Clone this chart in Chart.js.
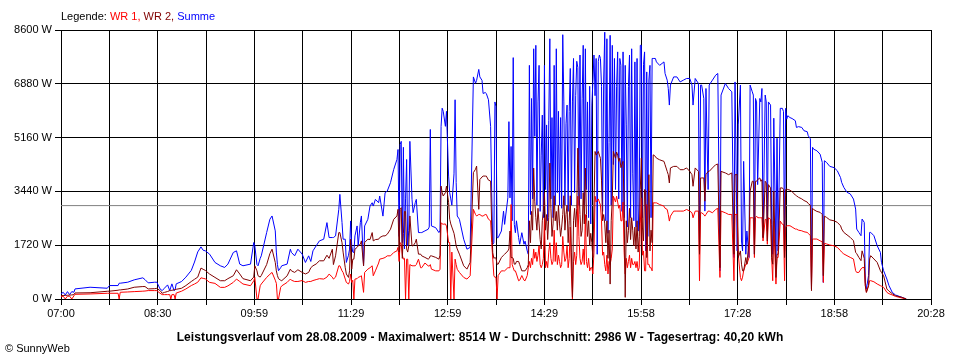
<!DOCTYPE html>
<html>
<head>
<meta charset="utf-8">
<script src="https://cdn.jsdelivr.net/npm/chart.js@4/dist/chart.umd.min.js"></script>
<style>
  body { margin: 0; background: #fff; }
  #wrap { position: relative; width: 960px; height: 360px; font-family: "Liberation Sans", Arial, sans-serif; }
  #legend { position: absolute; left: 61px; top: 10px; font-size: 11px; line-height: 13px; white-space: nowrap; }
  #title { position: absolute; left: 0; width: 960px; top: 330px; text-align: center; font-size: 12px; font-weight: bold; letter-spacing: 0.1px; line-height: 14px; white-space: nowrap; }
  #copy { position: absolute; left: 5px; top: 342px; font-size: 11px; line-height: 13px; }
</style>
</head>
<body>
<div id="wrap">
  <canvas id="chart" width="960" height="360"></canvas>
  <div id="legend">Legende: <span style="color:#ff0000">WR 1,</span> <span style="color:#800000">WR 2,</span> <span style="color:#0000ff">Summe</span></div>
  <div id="title">Leistungsverlauf vom 28.08.2009 - Maximalwert: 8514 W - Durchschnitt: 2986 W - Tagesertrag: 40,20 kWh</div>
  <div id="copy">© SunnyWeb</div>
</div>
<script>
// x axis: minutes after 07:00 (axis runs to 20:28 = 808 min)
const xTickLabels = ['07:00', '08:30', '09:59', '11:29', '12:59', '14:29', '15:58', '17:28', '18:58', '20:28'];
const yMax = 8600;
const yStep = 1720;
const average = 2986; // Durchschnitt

const times = [
  0, 2, 4, 6, 8, 10, 12, 13, 27, 43,
  45, 53, 54, 55, 62, 68, 76, 78, 81, 87,
  89, 92, 94, 96, 99, 101, 102, 103, 105, 106,
  107, 112, 116, 121, 124, 127, 130, 132, 134,
  138, 143, 148, 152, 155, 160, 163, 166, 169, 176,
  179, 180, 182, 183, 185, 186, 191, 194, 196, 199,
  200, 201, 202, 204, 205, 210, 213, 214, 217, 220,
  224, 227, 230, 232, 234, 237, 240, 244, 247, 249,
  252, 253, 255, 258, 259, 261, 262, 264, 265, 267, 268,
  269, 270, 271, 272, 273, 275, 276, 278, 279, 281,
  282, 285, 287, 289, 290, 292, 295, 296, 299, 301,
  303, 306, 309, 312, 313, 314, 315, 316, 317, 318,
  319, 320, 321, 322, 323, 324, 326, 327, 329, 330,
  332, 334, 335, 338, 341, 342, 343, 344, 348, 351, 352,
  353, 354, 355, 357, 358, 360, 361, 362, 363, 365, 366,
  367, 368, 370, 374, 377, 380, 383, 385, 386, 388,
  389, 391, 392, 394, 395, 397, 399, 400, 401, 402,
  403, 404, 405, 406, 409, 411, 412, 415, 416, 417,
  418, 419, 420, 421, 422, 423, 425, 426, 428, 430,
  431, 433, 434,
  435, 436, 437, 438, 439, 440, 441, 442, 443, 444,
  445, 446, 447, 448, 449, 450, 451, 452, 453, 454,
  455, 456, 457, 458, 459, 460, 461, 462, 463, 464,
  465, 466, 467, 468, 469, 470, 471, 472, 473, 474,
  475, 476, 477, 478, 479, 480, 481, 482, 483, 484,
  485, 486, 487, 488, 489, 490, 491, 492, 493, 494,
  495, 496, 497, 498, 499, 500, 501, 502, 503, 504,
  505, 506, 507, 508, 509, 510, 511, 512, 513, 514,
  515, 516, 517, 518, 519, 520, 521, 522, 523, 524,
  525, 526, 527, 528, 529, 530, 531, 532, 533, 534,
  535, 536, 537, 538, 539, 540, 541, 542, 543, 544,
  545, 546, 547, 548, 549, 550,
  552, 553, 556, 560, 561,
  563, 564, 565, 566, 569, 572, 575, 578, 581, 584,
  586, 587, 589, 592, 593, 594, 595, 597, 598, 599,
  601, 602, 605, 608, 610, 612, 613, 617, 620, 623,
  625, 626, 628, 629, 631, 632, 633, 634, 636, 637,
  639, 640, 642, 643, 644, 645, 646, 647, 649, 650,
  651, 652, 654, 655, 656, 657, 659, 660, 661, 662,
  664, 665, 666, 668, 670, 671, 672, 673, 674, 675,
  677, 679, 682, 683, 685, 688, 690, 693, 694, 696,
  697, 698, 699, 702, 705, 707, 708, 709, 711, 714,
  718, 721, 724, 725, 727, 730, 733, 736, 738, 739,
  741, 743, 744, 746, 747, 748, 750, 751, 752, 755,
  758, 761, 762, 764, 767, 769, 772, 775, 781, 785
];

// Summe (W)
const summe = [
  161, 215, 129, 236, 140, 236, 215, 322, 376, 344,
  430, 430, 505, 505, 537, 612, 677, 620, 516, 537,
  537, 322, 268, 344, 451, 268, 380, 484, 268, 300,
  484, 559, 699, 914, 1182, 1505, 1666, 1559, 1540,
  1434, 1168, 1062, 1009, 1115, 1487, 1540, 1115, 1062, 1115,
  1805, 1700, 1100, 1062, 1300, 1380, 2124, 2549, 2655, 2177,
  1500, 1100, 903, 1000, 1062, 1115, 1593, 1490, 1380, 1593,
  1434, 1168, 1380, 1200, 1540, 1700, 1858, 1912, 2442, 1965,
  1965, 1965, 2018, 2867, 3345, 2442, 1912, 1912, 1168, 1400, 1593,
  2496, 1700, 1500, 1486, 2018, 2336, 1700, 2442, 2655, 1062,
  2336, 2549, 2972, 3078, 2972, 3186, 3078, 3292, 2650, 3398,
  3451, 3717, 4142, 4460, 4780, 2000, 4940, 5040, 1800, 4850,
  1600, 3200, 4460, 1700, 2200, 5040, 3186, 2760, 3080, 3186,
  2124, 2124, 2124, 2177, 2230, 2300, 5420, 2336, 2280, 2124, 2200,
  5520, 6100, 6000, 5520, 6000, 3930, 3400, 3200, 3000, 4000, 6370,
  3720, 2655, 2549, 1912, 1593, 1650, 7100, 6900, 6990, 7340,
  7100, 6990, 6570, 6600, 6570, 6370, 5520, 3400, 1750, 1800,
  6300, 6150, 1960, 1960, 2173, 2810, 2385, 3233, 5670, 3233,
  4876, 2500, 7717, 2385, 2120, 2500, 1960, 1750, 2120, 1750,
  1850, 1537, 1430,
  7470, 2700, 6410, 3200, 8000, 5200, 8110, 3000, 6300, 7470,
  2800, 4600, 5880, 2600, 7470, 3500, 5565, 2500, 5700, 8320,
  3200, 5800, 2600, 7470, 3000, 8000, 3400, 6000, 3000, 5800,
  2900, 8450, 6300, 3000, 5600, 6200, 2800, 6000, 7370, 3000,
  6300, 7690, 3400, 6500, 7600, 7400, 3000, 7800, 3200, 6400,
  8110, 3000, 8000, 3500, 6300, 2600, 6800, 2400, 6200, 6950,
  7800, 6500, 7690, 1430, 7600, 7800, 7690, 6800, 2800, 7000,
  8530, 2500, 8320, 2100, 5000, 8430, 3000, 8110, 4300, 7690,
  3500, 6800, 7900, 3200, 7690, 7470, 2800, 7900, 2600, 7470,
  5565, 2300, 6800, 7800, 2600, 8000, 4000, 2500, 7580, 2300,
  7690, 2170, 3000, 8110, 8110, 2600, 7500, 7900, 1537, 7260,
  2000, 7000, 7470, 2600, 7690, 7690,
  7690, 7580, 7470, 7580, 7210,
  6996, 6730, 6200, 6840, 7100, 7100, 6940, 6996, 7050, 7050,
  6840, 6200, 7050, 6890, 1537, 6840, 6840, 6410, 2810, 6730,
  3500, 6840, 6996, 7155, 7210, 900, 6520, 6890, 6730, 6625,
  1325, 6940, 1537, 5565, 6840, 1855, 1537, 4400, 1431, 2173,
  1325, 6840, 6625, 6520, 1431, 6410, 6300, 3657, 6410, 6300,
  6730, 1961, 6520, 6300, 2173, 6300, 6200, 2385, 1431, 5780,
  1325, 5140, 1537, 6095, 6095, 5990, 1537, 6095, 5750, 5860,
  5800, 5770, 5700, 5485, 5510, 5485, 5380, 5350, 5220, 5120,
  320, 4850, 4790, 4740, 4630, 4366, 530, 4420, 4366, 4240,
  4200, 4100, 3880, 3730, 3570, 3410, 3360, 3195, 2875, 2236,
  2130, 2023, 2556, 2450, 532, 320, 750, 2130, 2130, 2023,
  1704, 1490, 1171, 905, 639, 426, 213, 128, 53, 0
];

// WR 2 (W)
const wr2 = [
  107, 110, 115, 120, 125, 130, 140, 193, 200, 247,
  250, 280, 290, 290, 320, 376, 398, 398, 322, 330,
  340, 269, 183, 210, 240, 269, 269, 280, 290, 300,
  310, 344, 430, 559, 630, 699, 989, 950, 914,
  797, 690, 584, 584, 650, 743, 935, 800, 650, 584,
  700, 1062, 900, 743, 700, 750, 1100, 1450, 1593, 1168,
  900, 750, 650, 600, 584, 740, 956, 900, 850, 935,
  850, 800, 850, 1000, 1062, 1120, 1221, 1221, 1400, 1300,
  1593, 1100, 1380, 2124, 2124, 1800, 1500, 1000, 800, 690, 900,
  1912, 955, 1274, 1274, 1593, 1650, 1700, 1750, 1858, 1062,
  1805, 1912, 1900, 2124, 1858, 1900, 1912, 1965, 2018, 2018,
  2070, 2230, 2549, 2655, 2867, 1500, 2867, 2920, 1300, 2100,
  2800, 2800, 1600, 1500, 1700, 2655, 1700, 1700, 1800, 1912,
  1434, 1434, 1380, 1330, 1274, 1300, 1380, 1380, 1330, 1274, 1400,
  3610, 3400, 3292, 3400, 3610, 3080, 2549, 2400, 2300, 2100, 1912,
  1700, 1600, 1434, 1062, 955, 1170, 4040, 4150, 4250, 2867,
  3820, 3900, 3930, 3930, 3930, 3800, 3770, 2336, 1480, 1300,
  1325, 1300, 1113, 1113, 1325, 1400, 1430, 1537, 1600, 2173,
  1325, 1325, 1300, 1113, 1113, 1200, 1200, 1100, 900, 900,
  900, 1000, 1100,
  2500, 1800, 2800, 2200, 4187, 3127, 2600, 2200, 2900, 2400,
  1900, 1600, 2500, 2800, 3400, 2200, 2700, 1900, 2600, 4346,
  2900, 2000, 2400, 3300, 2500, 2800, 2200, 3000, 2400, 2000,
  2300, 2700, 3300, 2200, 2700, 3000, 1800, 2500, 3300, 1500,
  53, 2500, 2900, 2300, 2900, 4823, 3600, 2700, 2000, 2200,
  3400, 2400, 4187, 2700, 2000, 2500, 1700, 2100, 1800, 1325,
  3000, 4717, 4600, 4650, 4717, 4600, 4500, 3800, 2500, 2700,
  2400, 1800, 2500, 1300, 2200, 477, 2500, 3200, 4717, 4600,
  4500, 4700, 4600, 4400, 4500, 4200, 4300, 4400, 3000, 53,
  2500, 1800, 2200, 2900, 1900, 2600, 2200, 1700, 2300, 1600,
  2500, 1500, 2000, 3500, 4505, 2300, 1855, 3500, 3445, 1325,
  2500, 3975, 1537, 2200, 1800, 4610,
  4560, 4505, 4450, 4400, 4293,
  4080, 3975, 3710, 4190, 4240, 4240, 4134, 4134, 4190, 4080,
  3975, 3604, 4190, 4080, 1431, 3870, 3870, 3870, 3127, 3975,
  4080, 4080, 4190, 4293, 4314, 1000, 4080, 4030, 3975, 4030,
  1431, 3975, 3975, 1325, 1537, 1113, 900, 900, 1325, 1113,
  1855, 3445, 3763, 3763, 1431, 3763, 3763, 3816, 3870, 3763,
  3816, 1961, 3763, 3710, 1855, 3657, 3551, 1325, 1113, 3445,
  689, 1431, 1431, 3551, 3551, 3500, 1325, 3500, 3515, 3500,
  3480, 3430, 3323, 3300, 3250, 3200, 3150, 3100, 3050, 3000,
  266, 2900, 2860, 2800, 2770, 2700, 745, 2650, 2609, 2530,
  2500, 2450, 2340, 2240, 2130, 2050, 1970, 1864, 1491, 1450,
  1330, 1225, 1540, 1300, 426, 213, 426, 1280, 1385, 1280,
  1170, 905, 850, 745, 320, 250, 170, 106, 53, 0
];

// WR 1 (W)
const wr1 = [
  80, 90, 0, 90, 90, 0, 100, 150, 161, 183,
  183, 183, 0, 215, 225, 236, 250, 255, 269, 269,
  269, 183, 140, 140, 140, 140, 0, 140, 140, 0,
  190, 250, 322, 430, 480, 537, 677, 660, 645,
  531, 500, 372, 372, 420, 531, 637, 560, 480, 425,
  580, 690, 0, 0, 425, 480, 690, 790, 850, 600,
  500, 0, 0, 372, 420, 531, 637, 600, 560, 560,
  590, 531, 560, 560, 590, 620, 650, 637, 700, 797,
  700, 637, 700, 1062, 1062, 900, 850, 637, 531, 480, 560,
  797, 530, 600, 0, 637, 650, 690, 720, 743, 212,
  850, 955, 1000, 1062, 743, 900, 1150, 1274, 1300, 1327,
  1380, 1380, 1486, 1540, 1650, 1200, 1805, 1750, 1400, 1274,
  1300, 0, 1274, 1274, 0, 1100, 1062, 1062, 1062, 1100,
  1274, 1000, 1000, 1150, 1060, 1050, 1100, 955, 900, 900, 950,
  2440, 2400, 2390, 2400, 2330, 1805, 1805, 0, 1500, 0, 1274,
  1100, 950, 850, 690, 637, 743, 2867, 2700, 2655, 2700,
  2700, 2650, 2655, 2700, 2700, 2550, 2500, 1800, 1274, 743,
  690, 700, 0, 750, 900, 900, 900, 1000, 1000, 1000,
  3020, 1100, 1000, 900, 900, 800, 583, 600, 750, 600,
  583, 750, 1000,
  1200, 1000, 1300, 1100, 1600, 1300, 1500, 1200, 1400, 1700,
  1100, 1000, 1100, 1300, 2600, 1000, 1200, 1000, 1500, 1800,
  1300, 1100, 1200, 2200, 1200, 1800, 1100, 1400, 1200, 1000,
  1100, 2000, 1500, 1200, 1300, 1700, 1000, 1300, 2300, 800,
  0, 1200, 1500, 1100, 1400, 3286, 2000, 1300, 1100, 1200,
  1600, 1100, 2700, 1200, 1000, 1300, 900, 1000, 1000, 800,
  1500, 3286, 3100, 3150, 3200, 3100, 3000, 2500, 1400, 1500,
  1100, 900, 1400, 800, 1200, 1100, 1300, 1600, 3286, 3200,
  3100, 3286, 3100, 2900, 3000, 2500, 2500, 3100, 1500, 800,
  1300, 1000, 1200, 1400, 1000, 1300, 1100, 1100, 1200, 1000,
  1200, 900, 1000, 2400, 3233, 1400, 1537, 900, 900, 3020,
  1100, 1113, 1000, 1000, 900, 3074,
  3074, 3074, 3020, 2968, 2900,
  2862, 2703, 2491, 2650, 2810, 2810, 2810, 2810, 2862, 2810,
  2756, 2597, 2810, 2810, 583, 2756, 2756, 2703, 2650, 2703,
  2810, 2810, 2756, 2862, 2900, 689, 2810, 2756, 2703, 2703,
  583, 2703, 2703, 1431, 689, 583, 700, 900, 1113, 1113,
  1325, 2597, 2597, 2597, 1325, 2600, 2650, 2600, 2597, 2597,
  2597, 1855, 2544, 2544, 1750, 2597, 2544, 1325, 583, 2491,
  477, 1325, 1325, 2491, 2385, 2385, 583, 2300, 2343, 2343,
  2343, 2300, 2236, 2236, 2200, 2180, 2150, 2130, 2100, 2023,
  320, 1917, 1917, 1917, 1860, 1830, 530, 1780, 1760, 1725,
  1700, 1650, 1544, 1500, 1440, 1385, 1330, 1278, 905, 850,
  850, 960, 1000, 1012, 426, 213, 426, 586, 586, 550,
  480, 426, 410, 373, 213, 170, 128, 85, 32, 0
];

const xMax = 808;
const xSlots = 18;

function points(values) {
  return times.map((t, i) => ({x: t, y: values[i]}));
}

Chart.defaults.font.family = '"Liberation Sans", Arial, sans-serif';
Chart.defaults.font.size = 11;
Chart.defaults.color = '#000';

const ctx = document.getElementById('chart').getContext('2d');

new Chart(ctx, {
  type: 'line',
  data: {
    datasets: [
      { label: 'WR 2', data: points(wr2), borderColor: '#800000', order: 0 },
      { label: 'WR 1', data: points(wr1), borderColor: '#ff0000', order: 1 },
      { label: 'Summe', data: points(summe), borderColor: '#0000ff', order: 2 },
      { label: 'Durchschnitt', data: [{x: 0, y: average}, {x: xMax, y: average}], borderColor: '#808080', order: 3 }
    ]
  },
  options: {
    responsive: false,
    animation: false,
    devicePixelRatio: 1,
    layout: { padding: { top: 30, right: 29, bottom: 0, left: 0 } },
    elements: {
      point: { radius: 0 },
      line: { borderWidth: 1, tension: 0 }
    },
    scales: {
      x: {
        type: 'linear',
        min: 0,
        max: xMax,
        afterFit: (scale) => { scale.height = 61; },
        afterBuildTicks: (scale) => {
          scale.ticks = [];
          for (let i = 0; i <= xSlots; i++) scale.ticks.push({value: i * xMax / xSlots});
        },
        ticks: {
          autoSkip: false,
          maxRotation: 0,
          padding: 2,
          color: '#000',
          callback: (v, i) => (i % 2 === 0 ? xTickLabels[i / 2] : '')
        },
        grid: { color: '#000', lineWidth: 1, tickLength: 6 },
        border: { color: '#000' }
      },
      y: {
        min: 0,
        max: yMax,
        afterFit: (scale) => { scale.width = 61; },
        ticks: {
          stepSize: yStep,
          padding: 3,
          color: '#000',
          callback: (v) => v + ' W'
        },
        grid: { color: '#000', lineWidth: 1, tickLength: 6 },
        border: { color: '#000' }
      }
    },
    plugins: {
      legend: { display: false },
      tooltip: { enabled: false }
    }
  }
});
</script>
</body>
</html>
